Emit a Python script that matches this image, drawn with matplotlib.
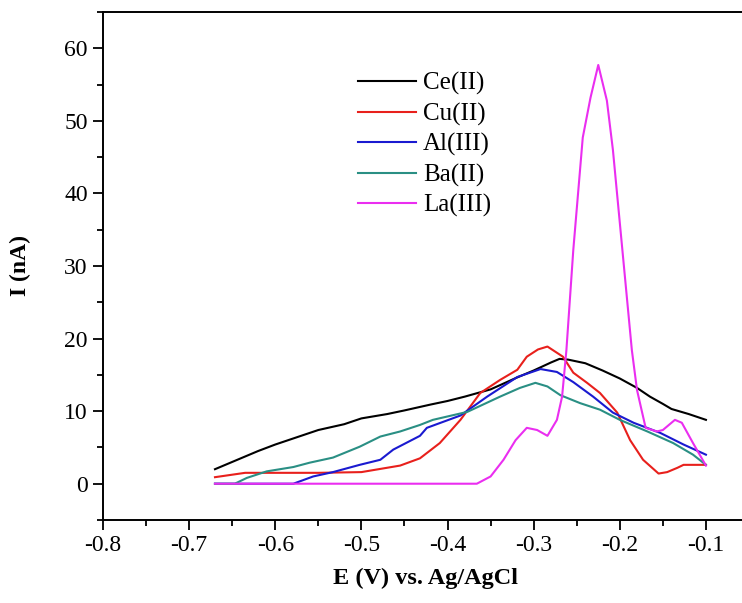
import matplotlib.pyplot as plt
from matplotlib.ticker import MultipleLocator

# Datos (E en V, I en nA)
e_ce = [-0.67, -0.65, -0.62, -0.60, -0.57, -0.55, -0.52, -0.50, -0.47, -0.45, -0.42,
        -0.40, -0.38, -0.35, -0.32, -0.30, -0.28, -0.27, -0.26, -0.24, -0.22, -0.20,
        -0.18, -0.165, -0.15, -0.14, -0.12, -0.10]
i_ce = [2.0, 3.0, 4.5, 5.4, 6.6, 7.4, 8.2, 9.0, 9.6, 10.1, 10.9,
        11.4, 12.0, 13.0, 14.6, 15.6, 16.7, 17.2, 17.1, 16.6, 15.6, 14.5,
        13.2, 12.0, 11.0, 10.3, 9.6, 8.8]

e_cu = [-0.67, -0.635, -0.60, -0.55, -0.50, -0.455, -0.432, -0.409, -0.385, -0.362,
        -0.339, -0.319, -0.308, -0.295, -0.284, -0.266, -0.254, -0.238, -0.223,
        -0.203, -0.188, -0.173, -0.155, -0.145, -0.133, -0.126, -0.10]
i_cu = [0.9, 1.5, 1.5, 1.5, 1.6, 2.5, 3.5, 5.6, 8.8, 12.5,
        14.3, 15.7, 17.5, 18.5, 18.9, 17.5, 15.3, 13.9, 12.5,
        9.8, 6.0, 3.3, 1.4, 1.6, 2.2, 2.6, 2.6]

e_al = [-0.67, -0.60, -0.579, -0.556, -0.533, -0.502, -0.478, -0.463, -0.432, -0.424,
        -0.385, -0.354, -0.319, -0.292, -0.273, -0.254, -0.231, -0.208, -0.184,
        -0.153, -0.126, -0.10]
i_al = [0.0, 0.0, 0.0, 1.0, 1.6, 2.6, 3.3, 4.7, 6.6, 7.7,
        9.4, 12.0, 14.7, 15.8, 15.4, 14.0, 12.0, 9.8, 8.4,
        7.0, 5.4, 4.0]

e_ba = [-0.67, -0.647, -0.633, -0.61, -0.579, -0.56, -0.533, -0.502, -0.478, -0.455,
        -0.432, -0.417, -0.377, -0.339, -0.316, -0.298, -0.284, -0.269, -0.246,
        -0.223, -0.20, -0.168, -0.138, -0.115, -0.10]
i_ba = [0.0, 0.0, 0.8, 1.7, 2.3, 2.9, 3.6, 5.1, 6.5, 7.2,
        8.1, 8.8, 9.9, 12.0, 13.2, 13.9, 13.4, 12.2, 11.1,
        10.2, 8.8, 7.2, 5.6, 4.0, 2.6]

e_la = [-0.67, -0.366, -0.35, -0.335, -0.321, -0.308, -0.296, -0.284, -0.273, -0.267,
        -0.262, -0.254, -0.243, -0.234, -0.225, -0.215, -0.208, -0.197, -0.186,
        -0.18, -0.17, -0.157, -0.15, -0.136, -0.128, -0.115, -0.10]
i_la = [0.0, 0.0, 1.0, 3.3, 6.0, 7.7, 7.4, 6.6, 8.8, 12.0,
        18.4, 32.2, 47.7, 53.2, 57.7, 52.8, 46.0, 32.2, 18.4,
        12.9, 7.7, 7.2, 7.4, 8.8, 8.4, 5.6, 2.5]

series = [
    ('Ce(II)', e_ce, i_ce, 'black'),
    ('Cu(II)', e_cu, i_cu, '#e8201c'),
    ('Al(III)', e_al, i_al, '#1a1ad0'),
    ('Ba(II)', e_ba, i_ba, '#2a8f84'),
    ('La(III)', e_la, i_la, '#ea2ef0'),
]

plt.rcParams['font.family'] = 'Liberation Serif'

fig = plt.figure(figsize=(7.42, 6.03), dpi=100)
ax = fig.add_axes([103 / 742, 83 / 603, 646 / 742, 508 / 603])

for nombre, e, i, color in series:
    ax.plot(e, i, color=color, linewidth=1.5, label=nombre)

ax.set_xlim(-0.8, -0.05)
ax.set_ylim(-5, 65)
ax.xaxis.set_minor_locator(MultipleLocator(0.05))
ax.yaxis.set_minor_locator(MultipleLocator(5))
ax.set_xticks([-0.8, -0.7, -0.6, -0.5, -0.4, -0.3, -0.2, -0.1])
ax.set_xticklabels(['-0.8', '-0.7', '-0.6', '-0.5', '-0.4', '-0.3', '-0.2', '-0.1'])
ax.set_yticks([0, 10, 20, 30, 40, 50, 60])

ax.tick_params(which='major', direction='out', length=7, width=1.3, labelsize=17, pad=4)
ax.tick_params(which='minor', direction='out', length=4, width=1.3)
ax.tick_params(top=False, right=False)
for lado in ax.spines.values():
    lado.set_linewidth(1.4)

ax.set_xlabel('E (V) vs. Ag/AgCl', fontsize=17.5, fontweight='bold', labelpad=8)
ax.set_ylabel('I (nA)', fontsize=17, fontweight='bold', labelpad=24)

ax.legend(loc='upper left', bbox_to_anchor=(348 / 742, 1 - 62 / 603),
          bbox_transform=fig.transFigure, borderaxespad=0, frameon=False,
          fontsize=18, handlelength=2.3, handletextpad=0.3, labelspacing=0.3)

plt.savefig('out.png', dpi=100)
